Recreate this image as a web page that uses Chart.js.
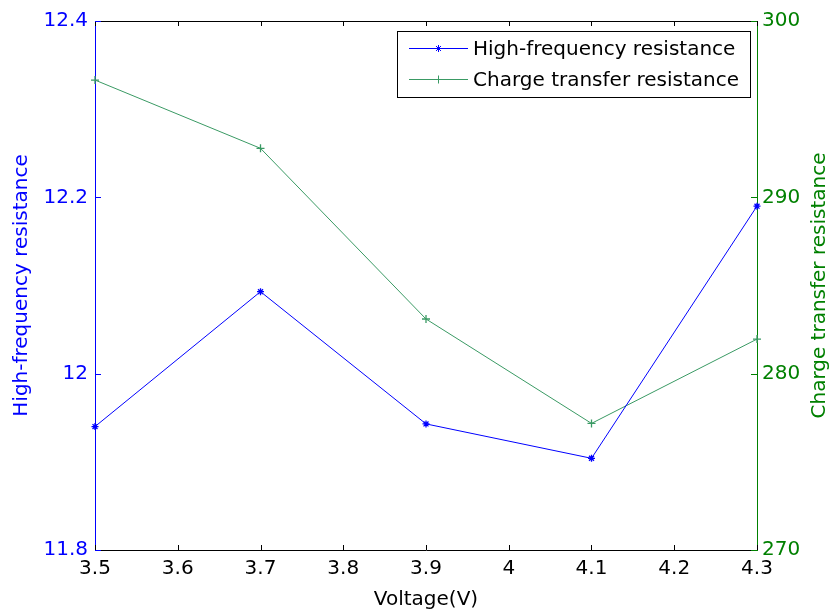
<!DOCTYPE html>
<html>
<head>
<meta charset="utf-8">
<script src="https://cdn.jsdelivr.net/npm/chart.js@4/dist/chart.umd.min.js"></script>
<style>
html,body{margin:0;padding:0;background:#fff;}
canvas{display:block;}
</style>
</head>
<body>
<canvas id="c" width="832" height="614"></canvas>
<script>
// ---- data ----
const voltage = [3.5, 3.7, 3.9, 4.1, 4.3];
const highFreqResistance = [11.940, 12.093, 11.943, 11.904, 12.190];
const chargeTransferResistance = [296.65, 292.78, 283.10, 277.18, 281.96];

const xTickValues = [3.5, 3.6, 3.7, 3.8, 3.9, 4.0, 4.1, 4.2, 4.3];
const xTickLabels = ['3.5', '3.6', '3.7', '3.8', '3.9', '4', '4.1', '4.2', '4.3'];
const leftTickValues = [11.8, 12.0, 12.2, 12.4];
const leftTickLabels = ['11.8', '12', '12.2', '12.4'];
const rightTickValues = [270, 280, 290, 300];
const rightTickLabels = ['270', '280', '290', '300'];

const seriesNames = ['High-frequency resistance', 'Charge transfer resistance'];
const xTitle = 'Voltage(V)';

const BLUE = '#0000ff';
const GREEN = '#008000';
const GREEN_LINE = '#3a9a64';
const FONT = "'DejaVu Sans', sans-serif";
const FS = 20;

function setTicks(values) {
  return function (scale) { scale.ticks = values.map(v => ({ value: v })); };
}

const decorPlugin = {
  id: 'decor',
  afterDraw(chart) {
    const ctx = chart.ctx;
    const a = chart.chartArea;
    const xs = chart.scales.x, yl = chart.scales.y, yr = chart.scales.y1;
    ctx.save();
    ctx.lineWidth = 1;
    // top border
    ctx.strokeStyle = '#000';
    ctx.beginPath();
    ctx.moveTo(a.left, Math.round(a.top) + 0.5);
    ctx.lineTo(a.right, Math.round(a.top) + 0.5);
    ctx.stroke();
    // x ticks (inward, top & bottom)
    ctx.beginPath();
    xTickValues.forEach(v => {
      const px = Math.round(xs.getPixelForValue(v)) + 0.5;
      ctx.moveTo(px, a.bottom); ctx.lineTo(px, a.bottom - 5);
      ctx.moveTo(px, a.top); ctx.lineTo(px, a.top + 5);
    });
    ctx.stroke();
    // left ticks
    ctx.strokeStyle = BLUE;
    ctx.beginPath();
    leftTickValues.forEach(v => {
      const py = Math.round(yl.getPixelForValue(v)) + 0.5;
      ctx.moveTo(a.left, py); ctx.lineTo(a.left + 6, py);
    });
    ctx.stroke();
    // right ticks
    ctx.strokeStyle = GREEN;
    ctx.beginPath();
    rightTickValues.forEach(v => {
      const py = Math.round(yr.getPixelForValue(v)) + 0.5;
      ctx.moveTo(a.right, py); ctx.lineTo(a.right - 6, py);
    });
    ctx.stroke();

    // right axis title (reads bottom to top)
    ctx.fillStyle = GREEN;
    ctx.font = FS + 'px ' + FONT;
    ctx.textAlign = 'center';
    ctx.textBaseline = 'middle';
    ctx.translate(820, (a.top + a.bottom) / 2);
    ctx.rotate(-Math.PI / 2);
    ctx.fillText(seriesNames[1], 0, 0);
    ctx.restore();

    // legend
    ctx.save();
    const bx = 397.5, by = 31.5, bw = 353, bh = 66;
    ctx.fillStyle = '#fff';
    ctx.fillRect(bx, by, bw, bh);
    ctx.strokeStyle = '#000';
    ctx.lineWidth = 1;
    ctx.strokeRect(bx, by, bw, bh);
    const rows = [48.5, 79.5];
    chart.data.datasets.forEach((ds, i) => {
      const y = rows[i];
      ctx.strokeStyle = ds.borderColor;
      ctx.lineWidth = 1;
      ctx.beginPath();
      ctx.moveTo(409, y); ctx.lineTo(468, y);
      ctx.stroke();
      Chart.helpers.drawPoint(ctx, {
        pointStyle: ds.pointStyle, radius: ds.pointRadius, borderWidth: 1, rotation: 0
      }, 438.5, y);
      ctx.fillStyle = '#000';
      ctx.font = FS + 'px ' + FONT;
      ctx.textAlign = 'left';
      ctx.textBaseline = 'middle';
      ctx.fillText(ds.label, 473, y + 1);
    });
    ctx.restore();
  }
};

new Chart(document.getElementById('c'), {
  type: 'line',
  data: {
    datasets: [
      {
        label: seriesNames[0],
        data: voltage.map((v, i) => ({ x: v, y: highFreqResistance[i] })),
        yAxisID: 'y',
        borderColor: BLUE,
        backgroundColor: BLUE,
        borderWidth: 1,
        pointStyle: 'star',
        pointRadius: 3.5,
        pointBorderColor: BLUE,
        pointBorderWidth: 1.3,
        tension: 0,
        clip: false
      },
      {
        label: seriesNames[1],
        data: voltage.map((v, i) => ({ x: v, y: chargeTransferResistance[i] })),
        yAxisID: 'y1',
        borderColor: GREEN_LINE,
        backgroundColor: GREEN_LINE,
        borderWidth: 1,
        pointStyle: 'cross',
        pointRadius: 4,
        pointBorderColor: GREEN_LINE,
        pointBorderWidth: 1.3,
        tension: 0,
        clip: false
      }
    ]
  },
  options: {
    responsive: false,
    animation: false,
    layout: { padding: { top: 21, left: 0, right: 0, bottom: 0 } },
    plugins: {
      legend: { display: false },
      tooltip: { enabled: false }
    },
    scales: {
      x: {
        type: 'linear',
        position: 'bottom',
        min: 3.5, max: 4.3,
        afterBuildTicks: setTicks(xTickValues),
        afterFit(s) { s.height = 64; },
        grid: { display: false, drawTicks: false },
        border: { display: true, color: '#000', width: 1 },
        ticks: {
          color: '#000',
          padding: 7,
          maxRotation: 0,
          autoSkip: false,
          font: { size: FS, family: FONT },
          callback: (v, i) => xTickLabels[i]
        },
        title: {
          display: true,
          text: xTitle,
          color: '#000',
          font: { size: FS, family: FONT },
          padding: { top: 0, bottom: 2 }
        }
      },
      y: {
        type: 'linear',
        position: 'left',
        min: 11.8, max: 12.4,
        afterBuildTicks: setTicks(leftTickValues),
        afterFit(s) { s.width = 95; },
        grid: { display: false, drawTicks: false },
        border: { display: true, color: BLUE, width: 1 },
        ticks: {
          color: BLUE,
          padding: 7,
          autoSkip: false,
          font: { size: FS, family: FONT },
          callback: (v, i) => leftTickLabels[i]
        },
        title: {
          display: true,
          text: seriesNames[0],
          color: BLUE,
          font: { size: FS, family: FONT },
          padding: { top: 10, bottom: 0 }
        }
      },
      y1: {
        type: 'linear',
        position: 'right',
        min: 270, max: 300,
        afterBuildTicks: setTicks(rightTickValues),
        afterFit(s) { s.width = 75; },
        grid: { display: false, drawTicks: false },
        border: { display: true, color: GREEN, width: 1 },
        ticks: {
          color: GREEN,
          padding: 5,
          autoSkip: false,
          font: { size: FS, family: FONT },
          callback: (v, i) => rightTickLabels[i]
        }
      }
    }
  },
  plugins: [decorPlugin]
});
</script>
</body>
</html>
